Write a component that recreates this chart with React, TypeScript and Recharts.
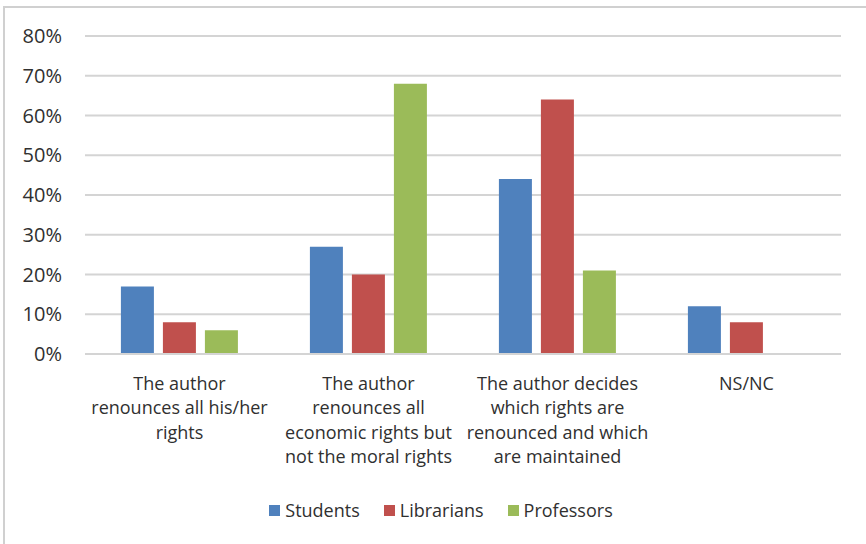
import React from 'react';
import { BarChart, Bar, XAxis, YAxis, CartesianGrid, Legend } from 'recharts';

const categories = [
    'The author\nrenounces all his/her\nrights',
    'The author\nrenounces all\neconomic rights but\nnot the moral rights',
    'The author decides\nwhich rights are\nrenounced and which\nare maintained',
    'NS/NC',
];
const seriesNames = ['Students', 'Librarians', 'Professors'];
const seriesColors = ['#4f81bd', '#c0504d', '#9bbb59'];
const students = [17, 27, 44, 12];
const librarians = [8, 20, 64, 8];
const professors = [6, 68, 21, 0];
const yTicks = [0, 10, 20, 30, 40, 50, 60, 70, 80];

const FONT = '"Open Sans", sans-serif';
const TEXT = '#303030';

const data = categories.map((name, i) => ({
    name,
    Students: students[i],
    Librarians: librarians[i],
    Professors: professors[i],
}));

const CategoryTick = (props: any) => {
    const { x, y, payload } = props;
    const lines: string[] = String(payload.value).split('\n');
    return (
        <g transform={`translate(${x},${y})`}>
            {lines.map((line, i) => (
                <text
                    key={i}
                    x={0}
                    y={28 + i * 24.3}
                    textAnchor="middle"
                    fill={TEXT}
                    fontSize={18}
                    fontFamily={FONT}
                >
                    {line}
                </text>
            ))}
        </g>
    );
};

// keeps the legend in series order instead of alphabetical
const SeriesLegend = (props: any) => {
    const items = [...(props.payload || [])].sort(
        (a: any, b: any) => seriesNames.indexOf(a.value) - seriesNames.indexOf(b.value)
    );
    return (
        <div style={{ display: 'flex', justifyContent: 'center', gap: 24, fontFamily: FONT, fontSize: 18, color: TEXT, lineHeight: '20px', paddingLeft: 16 }}>
            {items.map((item: any) => (
                <div key={item.value} style={{ display: 'flex', alignItems: 'center', gap: 5 }}>
                    <span style={{ display: 'inline-block', width: 11, height: 11, background: item.color }} />
                    <span>{item.value}</span>
                </div>
            ))}
        </div>
    );
};

export default function App() {
    return (
        <div style={{ position: 'absolute', left: 0, top: 0, width: 866, height: 544, background: '#fff', overflow: 'hidden' }}>
            <div style={{ position: 'absolute', left: 3, top: 6, width: 880, height: 600, borderTop: '2px solid #d0d0d0', borderLeft: '2px solid #d0d0d0' }} />
            <div style={{ position: 'absolute', left: 0, top: 0 }}>
                <BarChart
                    width={866}
                    height={544}
                    data={data}
                    margin={{ top: 36, right: 25, left: 0, bottom: 0 }}
                    barCategoryGap="19%"
                    barGap={9}
                >
                    <CartesianGrid vertical={false} stroke="#d4d4d4" strokeWidth={2} />
                    <XAxis
                        dataKey="name"
                        axisLine={{ stroke: '#d4d4d4', strokeWidth: 2 }}
                        tickLine={false}
                        tick={<CategoryTick />}
                        interval={0}
                        height={170}
                    />
                    <YAxis
                        width={85}
                        domain={[0, 80]}
                        ticks={yTicks}
                        axisLine={false}
                        tickLine={false}
                        tickSize={0}
                        tickMargin={23}
                        tickFormatter={(v: number) => `${v}%`}
                        tick={{ fill: TEXT, fontSize: 20, fontFamily: FONT }}
                    />
                    <Legend
                        verticalAlign="bottom"
                        content={<SeriesLegend />}
                        wrapperStyle={{ top: 500, left: 0, width: 866 }}
                    />
                    {seriesNames.map((s, i) => (
                        <Bar key={s} dataKey={s} fill={seriesColors[i]} isAnimationActive={false} />
                    ))}
                </BarChart>
            </div>
        </div>
    );
}
